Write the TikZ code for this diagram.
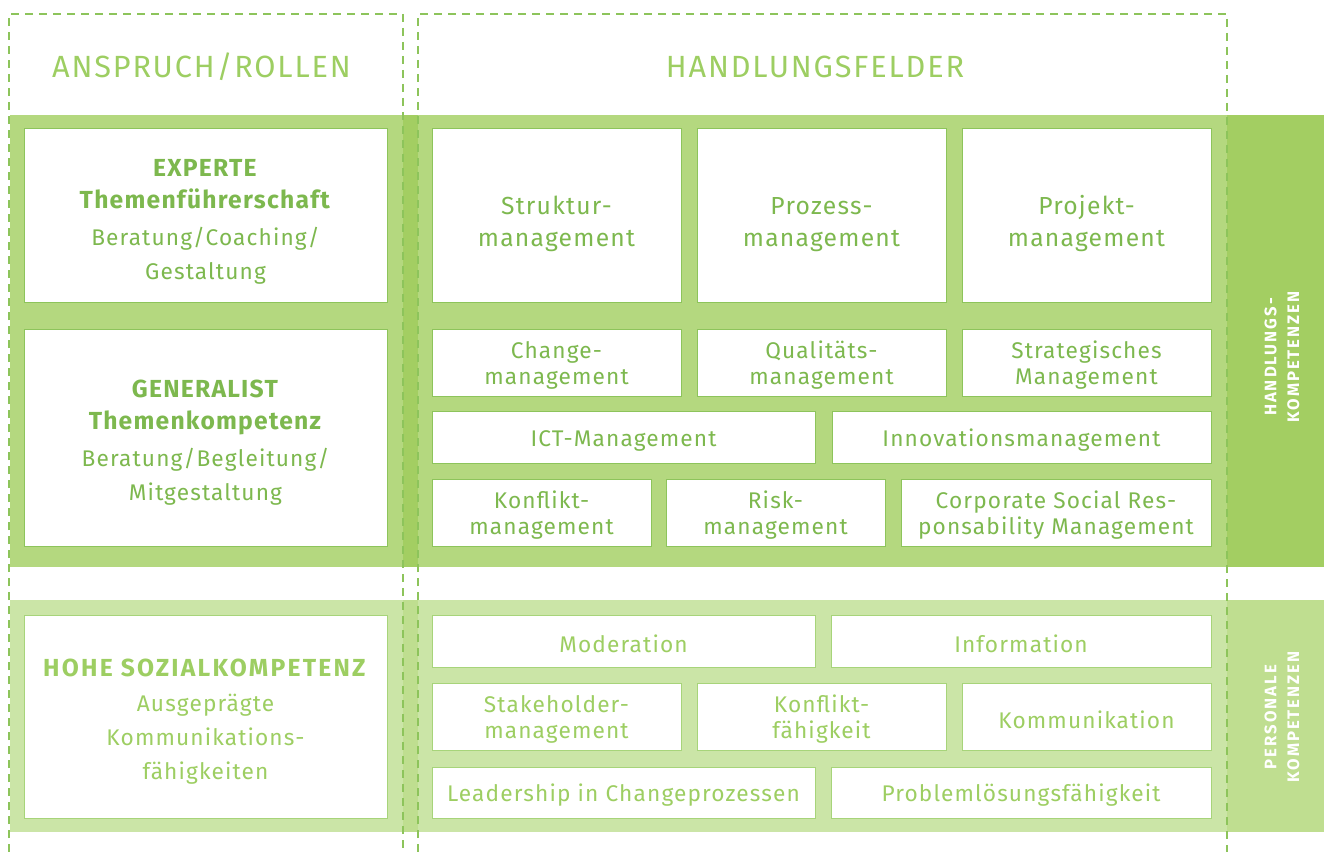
\documentclass[tikz,border=0pt]{standalone}
\usepackage{fontspec}
\setmainfont{Fira Sans}[LetterSpace=5]
\newfontfamily\headfont{Fira Sans}[LetterSpace=6]
\newfontfamily\sidefont{Fira Sans}[LetterSpace=12]
\definecolor{bandA}{HTML}{B4D87F}
\definecolor{stripA}{HTML}{A3CE62}
\definecolor{bandB}{HTML}{CBE5A7}
\definecolor{stripB}{HTML}{BFDE90}
\definecolor{lineA}{HTML}{8DC45B}
\definecolor{lineB}{HTML}{A7D47A}
\definecolor{textA}{HTML}{7DB84E}
\definecolor{textB}{HTML}{9DCE62}
\definecolor{dashcol}{HTML}{8DC45B}
% strut at the start of the first text line
\newlength\aufh
\newcommand\auf{\rule{0pt}{\aufh}}
\begin{document}
\begin{tikzpicture}[x=0.75pt,y=0.75pt,yscale=-1,xscale=1,
  sz/.style 2 args={minimum width=#1*0.75pt,minimum height=#2*0.75pt},
  feldA/.style={draw=lineA,line width=0.75pt,fill=white,inner sep=0pt,align=center,text=textA,
    font=\fontsize{17}{19.5}\selectfont,execute at begin node={\setlength\aufh{17.5pt}}},
  feldB/.style={feldA,draw=lineB,text=textB},
  grossfeld/.style={font=\fontsize{18.5}{24}\selectfont,execute at begin node={\setlength\aufh{26pt}}},
  rolle/.style={font=\fontsize{17}{25.5}\selectfont,execute at begin node={\setlength\aufh{21pt}}},
  kopf/.style={text=textB,anchor=base,font=\headfont\fontsize{23}{28}\selectfont},
  seite/.style={text=white,rotate=90,align=center,font=\sidefont\bfseries\fontsize{12.5}{17}\selectfont},
  rahmen/.style={draw=dashcol,line width=1.1pt,dash pattern=on 6pt off 4.5pt}]
\useasboundingbox (0,0) rectangle (1324,852);

%Shape: Rectangle (upper band)
\fill [bandA] (10,115) rectangle (1227,567);
\fill [stripA] (1227,115) rectangle (1324,567);
\fill [stripA] (403,115) rectangle (418,567);
%Shape: Rectangle (lower band)
\fill [bandB] (10,600) rectangle (1227,832);
\fill [stripB] (1227,600) rectangle (1324,832);
\fill [stripB] (403,600) rectangle (418,832);

%Shape: dashed columns
\draw [rahmen] (9,852) -- (9,14) -- (403,14) -- (403,852);
\draw [rahmen] (418,852) -- (418,14) -- (1227,14) -- (1227,852);

% Text Node
\node [kopf] (anspruch) at (201.5,78) {ANSPRUCH/ROLLEN};
% Text Node
\node [kopf] (felder) at (815,78) {HANDLUNGSFELDER};

% Text Node
\node [seite] (handlungsk) at (1282,357) {HANDLUNGS-\\KOMPETENZEN};
% Text Node
\node [seite] (personalk) at (1282,717) {PERSONALE\\KOMPETENZEN};

% Roles
\node [feldA,rolle,sz={363}{174}] (experte) at (205.5,216) {\auf\textbf{\fontsize{18.5}{24}\selectfont EXPERTE}\\[-1.5pt]\textbf{\fontsize{18.5}{24}\selectfont Themenführerschaft}\\[2.25pt]Beratung/Coaching/\\Gestaltung};
\node [feldA,rolle,sz={363}{217}] (generalist) at (205.5,437.5) {\auf\textbf{\fontsize{18.5}{24}\selectfont GENERALIST}\\[-1.5pt]\textbf{\fontsize{18.5}{24}\selectfont Themenkompetenz}\\[2.25pt]Beratung/Begleitung/\\Mitgestaltung};
\node [feldB,rolle,sz={363}{203}] (sozial) at (205.5,716.5) {\auf\textbf{\fontsize{18.5}{24}\addfontfeature{LetterSpace=9}\selectfont HOHE SOZIALKOMPETENZ}\\[1pt]Ausgeprägte\\Kommunikations-\\fähigkeiten};

% Handlungsfelder
\node [feldA,grossfeld,sz={249}{174}] (struktur) at (556.5,216) {\auf Struktur-\\management};
\node [feldA,grossfeld,sz={249}{174}] (prozess) at (821.5,216) {\auf Prozess-\\management};
\node [feldA,grossfeld,sz={249}{174}] (projekt) at (1086.5,216) {\auf Projekt-\\management};
\node [feldA,sz={249}{67}] (change) at (556.5,362.5) {\auf Change-\\management};
\node [feldA,sz={249}{67}] (qualitaet) at (821.5,362.5) {\auf Qualitäts-\\management};
\node [feldA,sz={249}{67}] (strategie) at (1086.5,362.5) {\auf Strategisches\\Management};
\node [feldA,sz={383}{52}] (ict) at (623.5,437) {\auf ICT-Management};
\node [feldA,sz={379}{52}] (innovation) at (1021.5,437) {\auf Innovationsmanagement};
\node [feldA,sz={219}{67}] (konflikt) at (541.5,512.5) {\auf Konflikt-\\management};
\node [feldA,sz={219}{67}] (risk) at (775.5,512.5) {\auf Risk-\\management};
\node [feldA,sz={310}{67}] (csr) at (1056,512.5) {\auf Corporate Social Res-\\ponsability Management};

% Personale Kompetenzen
\node [feldB,sz={383}{52}] (moderation) at (623.5,641) {\auf Moderation};
\node [feldB,sz={380}{52}] (information) at (1021,641) {\auf Information};
\node [feldB,sz={249}{67}] (stakeholder) at (556.5,716.5) {\auf Stakeholder-\\management};
\node [feldB,sz={249}{67}] (konfliktf) at (821.5,716.5) {\auf Konflikt-\\fähigkeit};
\node [feldB,sz={249}{67}] (kommunikation) at (1086.5,716.5) {\auf Kommunikation};
\node [feldB,sz={383}{51}] (leadership) at (623.5,792.5) {\auf Leadership in Changeprozessen};
\node [feldB,sz={380}{51}] (problem) at (1021,792.5) {\auf Problemlösungsfähigkeit};

\end{tikzpicture}
\end{document}
